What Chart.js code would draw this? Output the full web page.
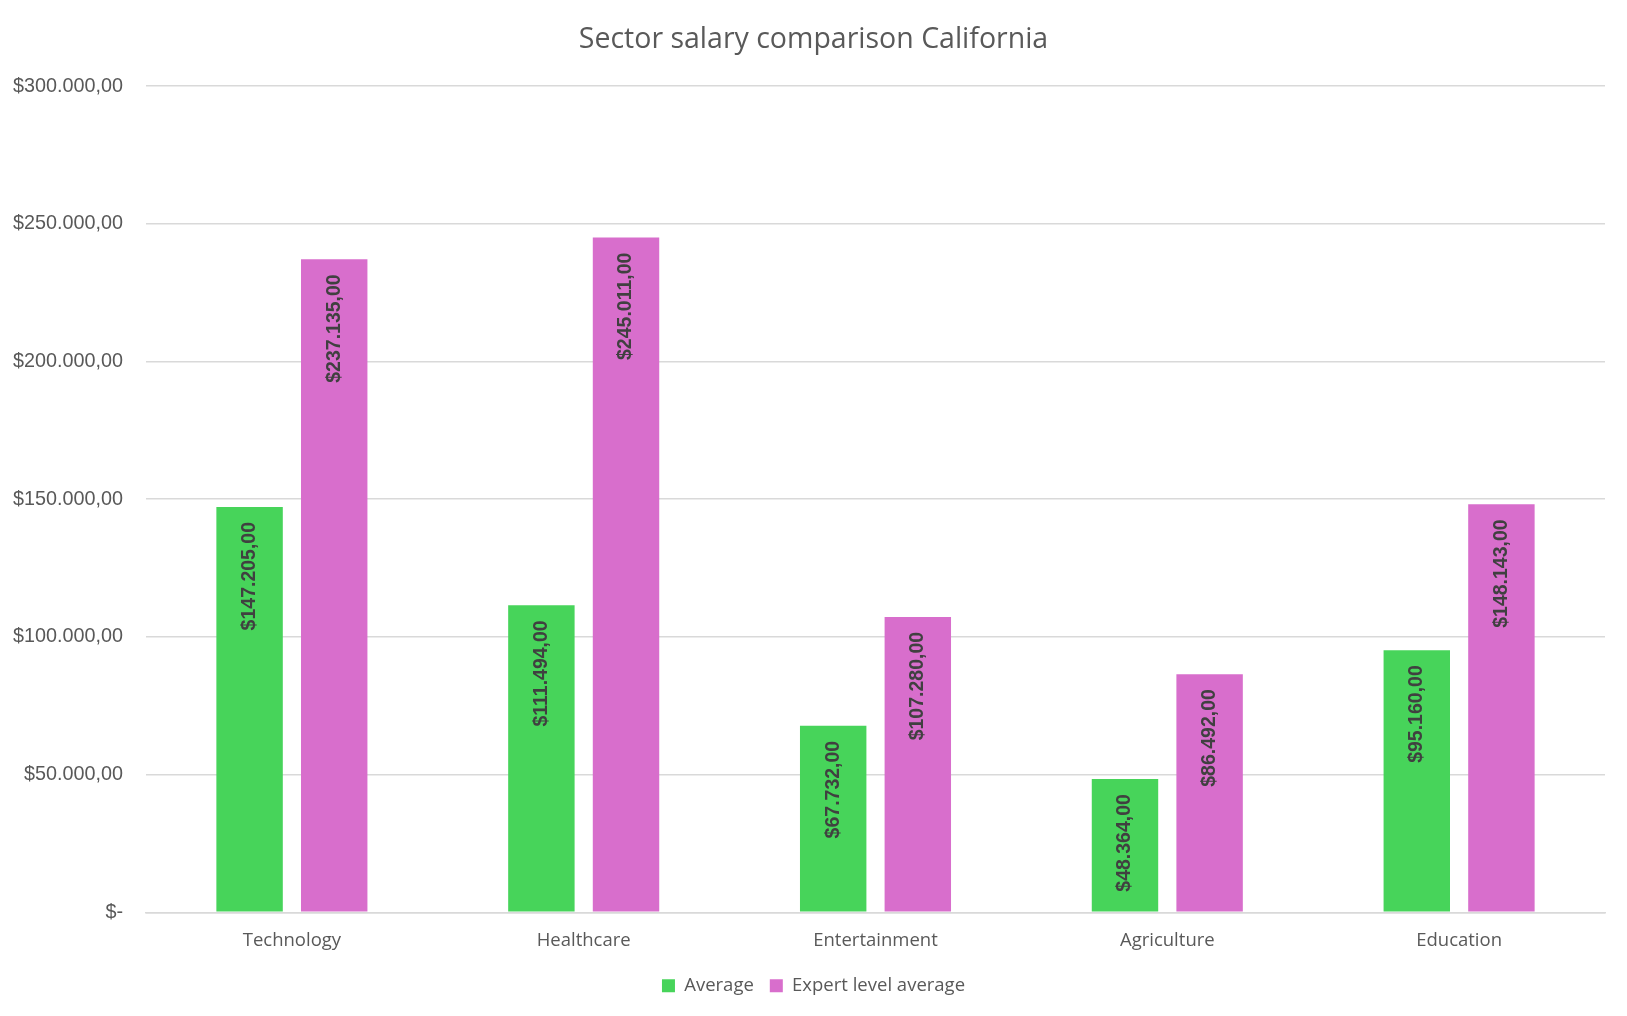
<!DOCTYPE html>
<html>
<head>
<meta charset="utf-8">
<script src="https://cdn.jsdelivr.net/npm/chart.js@4"></script>
<style>
  html, body { margin: 0; padding: 0; background: #fff; }
  #wrap { width: 1627px; height: 1016px; }
</style>
</head>
<body>
<div id="wrap"><canvas id="chartSalari"></canvas></div>
<script>
/* dati */
const sectors = ["Technology", "Healthcare", "Entertainment", "Agriculture", "Education"];
const averageSalary = [147205, 111494, 67732, 48364, 95160];
const expertSalary = [237135, 245011, 107280, 86492, 148143];
const seriesNames = ["Average", "Expert level average"];

const GREY = "#595959";

function euroStyle(v) {
  // formato tipo Excel: $147.205,00 e $- per lo zero
  if (v === 0) return "$-";
  const s = Math.round(v).toString().replace(/\B(?=(\d{3})+(?!\d))/g, ".");
  return "$" + s + ",00";
}

/* etichette ruotate dentro la barra, vicino alla cima */
const barLabels = {
  id: "barLabels",
  afterDatasetsDraw(chart) {
    const ctx = chart.ctx;
    ctx.save();
    ctx.font = "bold 19.5px 'Liberation Sans', Arial, sans-serif";
    ctx.fillStyle = "#404040";
    ctx.textAlign = "right";
    ctx.textBaseline = "middle";
    chart.data.datasets.forEach((ds, di) => {
      chart.getDatasetMeta(di).data.forEach((bar, i) => {
        ctx.save();
        ctx.translate(bar.x, bar.y + 15);
        ctx.rotate(-Math.PI / 2);
        ctx.fillText(euroStyle(ds.data[i]), 0, 0);
        ctx.restore();
      });
    });
    ctx.restore();
  }
};

new Chart(document.getElementById("chartSalari"), {
  type: "bar",
  data: {
    labels: sectors,
    datasets: [
      {
        label: seriesNames[0],
        data: averageSalary,
        yAxisID: "y",
        backgroundColor: "#47d45a",
        categoryPercentage: 0.58,
        barPercentage: 0.785
      },
      {
        label: seriesNames[1],
        data: expertSalary,
        yAxisID: "y",
        backgroundColor: "#d86ecc",
        categoryPercentage: 0.58,
        barPercentage: 0.785
      }
    ]
  },
  options: {
    responsive: true,
    maintainAspectRatio: false,
    animation: false,
    layout: { padding: { left: 11, right: 11, top: 0, bottom: 11 } },
    plugins: {
      title: {
        display: true,
        text: "Sector salary comparison California",
        color: GREY,
        font: { family: "'Open Sans', sans-serif", size: 28.5, weight: "normal" },
        padding: { top: 23, bottom: 29 }
      },
      legend: {
        position: "bottom",
        labels: {
          color: GREY,
          font: { family: "'Open Sans', sans-serif", size: 18.5 },
          boxWidth: 13,
          boxHeight: 13,
          padding: 16
        }
      },
      tooltip: { enabled: false }
    },
    scales: {
      x: {
        grid: { display: false },
        border: { display: true, color: "#d9d9d9", width: 1.5 },
        ticks: {
          color: GREY,
          font: { family: "'Open Sans', sans-serif", size: 18.5 },
          padding: 9
        }
      },
      y: {
        min: 0,
        max: 300000,
        ticks: {
          stepSize: 50000,
          color: GREY,
          font: { family: "'Liberation Sans', Arial, sans-serif", size: 19.8 },
          padding: 23,
          callback: v => euroStyle(v)
        },
        grid: { color: "#d9d9d9", lineWidth: 1.5, drawTicks: false },
        border: { display: false },
        afterFit(scale) { scale.width = 135; }
      },
      // spazio vuoto a destra del grafico
      yRight: {
        position: "right",
        min: 0,
        max: 300000,
        grid: { display: false },
        border: { display: false },
        ticks: { display: false },
        afterFit(scale) { scale.width = 11; }
      }
    }
  },
  plugins: [barLabels]
});
</script>
</body>
</html>
